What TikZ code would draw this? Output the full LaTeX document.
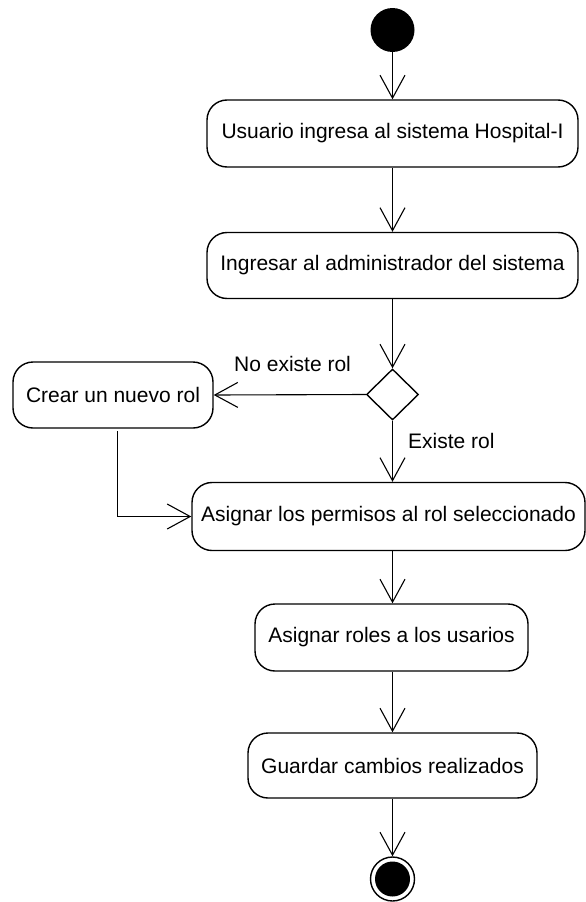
\documentclass[tikz,border=0pt]{standalone}
\usepackage{fontspec}
\setmainfont{Liberation Sans}
\usetikzlibrary{arrows.meta,shapes.geometric}
\begin{document}
\begin{tikzpicture}[x=1pt,y=-1pt,
  font=\fontsize{21}{24}\selectfont,
  act/.style={draw,line width=1.4pt,rounded corners=20pt,inner sep=0pt,align=center},
  flow/.style={line width=1.1pt,-{Straight Barb[length=23pt,width=25pt,line width=1.1pt]}},
  lbl/.style={anchor=base west,inner sep=0pt}]
\useasboundingbox (0,0) rectangle (586,902);
\node[circle,fill=black,minimum size=44pt,inner sep=0pt] (start) at (392.5,30) {};
\node[act,minimum width=371pt,minimum height=67pt] (b1) at (392.5,133.5) {Usuario ingresa al sistema Hospital-I};
\node[act,minimum width=371pt,minimum height=66pt] (b2) at (392.5,265.5) {Ingresar al administrador del sistema};
\node[diamond,draw,line width=1.4pt,minimum width=52pt,minimum height=51pt,inner sep=0pt] (d) at (392.5,394.5) {};
\node[act,minimum width=200pt,minimum height=66pt] (crear) at (113,395) {Crear un nuevo rol};
\node[act,minimum width=393pt,minimum height=68pt] (b3) at (388.5,516.5) {Asignar los permisos al rol seleccionado};
\node[act,minimum width=273pt,minimum height=67pt] (b4) at (391.5,637.5) {Asignar roles a los usarios};
\node[act,minimum width=289pt,minimum height=65pt] (b5) at (392.5,765.5) {Guardar cambios realizados};
\node[circle,draw,line width=1.4pt,minimum size=44pt,inner sep=0pt] (end) at (392.5,879) {};
\node[circle,fill=black,minimum size=35pt,inner sep=0pt] (endin) at (392.5,879) {};
\node[lbl] (l1) at (234,371.5) {No existe rol};
\node[lbl] (l2) at (408,448) {Existe rol};
\draw[flow] (start) -- (b1);
\draw[flow] (b1) -- (b2);
\draw[flow] (b2.south -| d) -- (d.north);
\draw[flow] (d.south) -- (d.south |- b3.north);
\draw[flow] (d.west) -- (crear.east);
\coordinate (c1) at (117.5,431);
\draw[flow] (c1) |- (b3.west);
\draw[flow] (b3.south -| d) -- (b4.north -| d);
\draw[flow] (b4.south -| d) -- (b5.north -| d);
\draw[flow] (b5.south -| d) -- (end.north);
\end{tikzpicture}
\end{document}
